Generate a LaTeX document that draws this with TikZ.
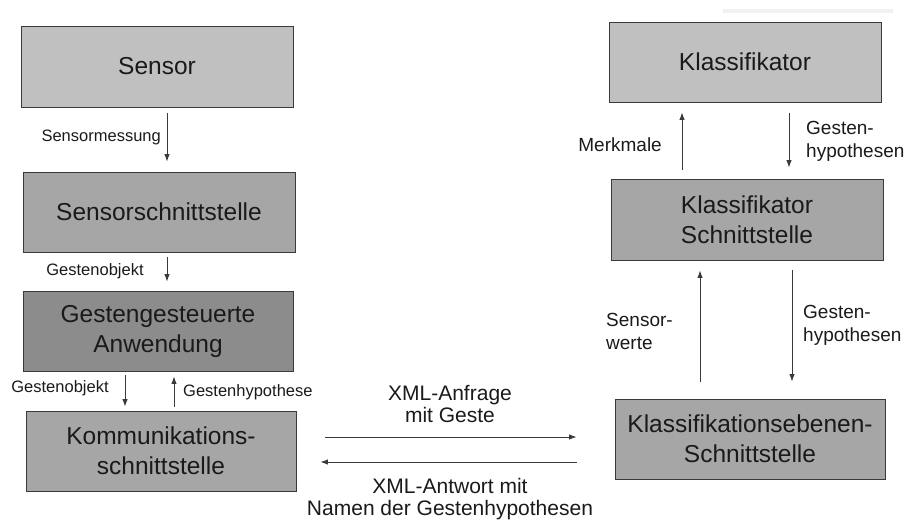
\documentclass[tikz,border=0pt]{standalone}
\usepackage{fontspec}
\setmainfont{Liberation Sans}
\usetikzlibrary{arrows.meta}
\definecolor{boxlight}{HTML}{C0C0C0}
\definecolor{boxmid}{HTML}{A6A6A6}
\definecolor{boxdark}{HTML}{8C8C8C}
\definecolor{edge}{HTML}{3A3A3A}
\definecolor{txt}{HTML}{1A1A1A}
\begin{document}
\begin{tikzpicture}[x=1pt,y=-1pt,
  blk/.style={draw=edge, line width=0.9pt, inner sep=0pt, align=center, text=txt,
    font=\fontsize{24.5}{30}\selectfont},
  arr/.style={draw=edge, line width=0.9pt, -{Latex[length=7.5pt,width=5.5pt]}},
  lbls/.style={inner sep=0pt, text=txt, font=\fontsize{16.5}{20}\selectfont},
  lblr/.style={inner sep=0pt, text=txt, align=left, font=\fontsize{19}{23}\selectfont},
  lblx/.style={inner sep=0pt, text=txt, align=center, font=\fontsize{21}{22}\selectfont}]
\useasboundingbox (0,0) rectangle (908,520);
\fill[gray!10] (723,9) rectangle (893,13);
% boxes
\node[blk, fill=boxlight, minimum width=272pt, minimum height=81pt] (sensor) at (157,66.5) {Sensor};
\node[blk, fill=boxmid, minimum width=272pt, minimum height=80pt] (ss) at (159,212) {Sensorschnittstelle};
\node[blk, fill=boxdark, minimum width=270pt, minimum height=80pt] (gest) at (158,331) {Gestengesteuerte\\Anwendung};
\node[blk, fill=boxmid, minimum width=270pt, minimum height=80pt] (komm) at (161,451) {Kommunikations-\\schnittstelle};
\node[blk, fill=boxlight, minimum width=272pt, minimum height=80pt] (klass) at (745,62) {Klassifikator};
\node[blk, fill=boxmid, minimum width=272pt, minimum height=81pt] (ks) at (747,219.5) {Klassifikator\\Schnittstelle};
\node[blk, fill=boxmid, minimum width=270pt, minimum height=80pt] (ke) at (750,439) {Klassifikationsebenen-\\Schnittstelle};
% left column arrows
\draw[arr, shorten <=6pt, shorten >=10pt] ([xshift=10pt]sensor.south) -- ([xshift=8pt]ss.north);
\node[lbls, anchor=east] (l1) at (161,137) {Sensormessung};
\draw[arr, shorten <=5pt, shorten >=9pt] ([xshift=8pt]ss.south) -- ([xshift=9pt]gest.north);
\node[lbls] (l2) at (95,271) {Gestenobjekt};
\draw[arr, shorten <=4pt, shorten >=4pt] ([xshift=-33pt]gest.south) -- ([xshift=-36pt]komm.north);
\node[lbls] (l3) at (60,388) {Gestenobjekt};
\draw[arr, shorten <=4pt, shorten >=5pt] ([xshift=13pt]komm.north) -- ([xshift=16pt]gest.south);
\node[lbls, anchor=west] (l4) at (183,392) {Gestenhypothese};
% right column arrows
\draw[arr, shorten <=9pt, shorten >=10pt] ([xshift=-65pt]ks.north) -- ([xshift=-63pt]klass.south);
\node[lblr, anchor=east] (l5) at (662,145) {Merkmale};
\draw[arr, shorten <=11pt, shorten >=11pt] ([xshift=44pt]klass.south) -- ([xshift=42pt]ks.north);
\node[lblr, anchor=west] (l6) at (806,141) {Gesten-\\hypothesen};
\draw[arr, shorten <=17pt, shorten >=10pt] ([xshift=-50pt]ke.north) -- ([xshift=-47pt]ks.south);
\node[lblr, anchor=west] (l7) at (606,331) {Sensor-\\werte};
\draw[arr, shorten <=10pt, shorten >=17pt] ([xshift=45pt]ks.south) -- ([xshift=42pt]ke.north);
\node[lblr, anchor=west] (l8) at (803,325) {Gesten-\\hypothesen};
% horizontal arrows
\draw[arr, shorten <=29pt, shorten >=38pt] ([yshift=14pt]komm.east) -- ([yshift=2pt]ke.west);
\node[lblx] (l9) at (450,404) {XML-Anfrage\\mit Geste};
\draw[arr, shorten <=38pt, shorten >=24pt] ([yshift=-23pt]ke.west) -- ([yshift=-11pt]komm.east);
\node[lblx] (l10) at (450,499) {XML-Antwort mit\\Namen der Gestenhypothesen};
\end{tikzpicture}
\end{document}
